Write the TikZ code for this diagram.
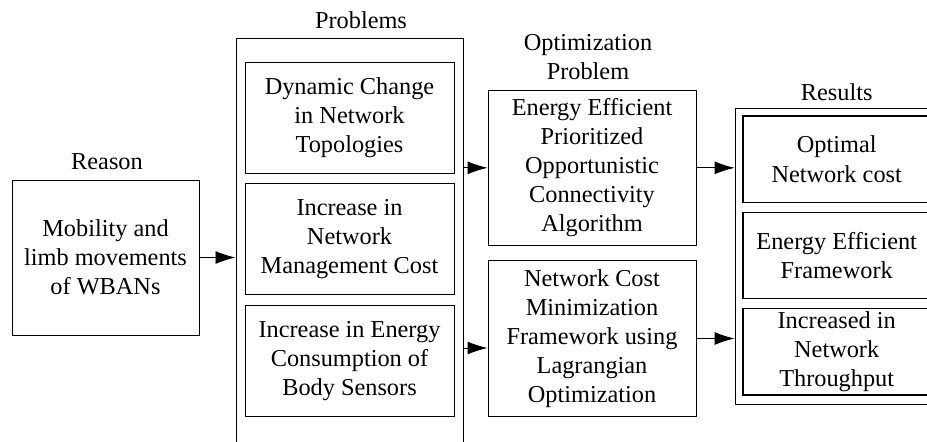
\documentclass[tikz,border=0pt]{standalone}
\usepackage{fontspec}
\setmainfont{Liberation Serif}
\usetikzlibrary{arrows.meta,positioning}

\begin{document}
\begin{tikzpicture}[x=0.44pt,y=-0.44pt,
            font=\fontsize{10.7}{12.8}\selectfont,
            box/.style={draw,thin,rectangle,align=center,inner sep=0pt},
            reasonbox/.style={box,minimum width=82.3pt,minimum height=68.2pt},
            probbox/.style={box,minimum width=92pt,minimum height=48.8pt},
            optbox/.style={box,minimum width=91.5pt,minimum height=68.5pt},
            resbox/.style={box,semithick,minimum width=82.5pt,minimum height=38pt},
            head/.style={align=center,inner sep=0pt},
            arr/.style={draw,thin,-{Latex[length=8.8pt,width=5.7pt]}}
          ]
          \useasboundingbox (0,0) rectangle (927,441);
          \clip (0,0) rectangle (927,441);

          %reason
          \node[reasonbox] (reason) at (105.5,257.5) {Mobility and\\limb movements\\of WBANs};
          \node[head] (treason) at (107,162) {Reason};

          %problems
          \node[box,minimum width=99.9pt,minimum height=190pt] (probs) at (349.5,254) {};
          \node[head] (tprobs) at (361,20) {Problems};
          \node[probbox] (p1) at (349.5,117.5) {Dynamic Change\\in Network\\Topologies};
          \node[probbox,below=4.4pt of p1] (p2) {Increase in\\Network\\Management Cost};
          \node[probbox,below=4.4pt of p2] (p3) {Increase in Energy\\Consumption of\\Body Sensors};

          %optimization
          \node[head] (topt) at (588,57.5) {Optimization\\Problem};
          \node[optbox] (o1) at (592,167.8) {Energy Efficient\\Prioritized\\Opportunistic\\Connectivity\\Algorithm};
          \node[optbox,below=6.2pt of o1] (o2) {Network Cost\\Minimization\\Framework using\\Lagrangian\\Optimization};

          %results
          \node[box,minimum width=89.3pt,minimum height=130.2pt] (res) at (836.5,256.3) {};
          \node[head] (tres) at (836.7,91.7) {Results};
          \node[resbox] (r1) at (836.7,159.2) {Optimal\\Network cost};
          \node[resbox,below=3.8pt of r1] (r2) {Energy Efficient\\Framework};
          \node[resbox,below=3.8pt of r2] (r3) {Increased in\\Network\\Throughput};

          %arrows
          \coordinate (lagin) at (463,348);
          \draw[arr] (reason.east) -- (reason.east -| probs.west);
          \draw[arr] (o1.west -| probs.east) -- (o1.west);
          \draw[arr] (lagin) -- (lagin -| o2.west);
          \draw[arr] (o1.east) -- (o1.east -| res.west);
          \draw[arr] (o2.east) -- (o2.east -| res.west);
      \end{tikzpicture}
\end{document}
